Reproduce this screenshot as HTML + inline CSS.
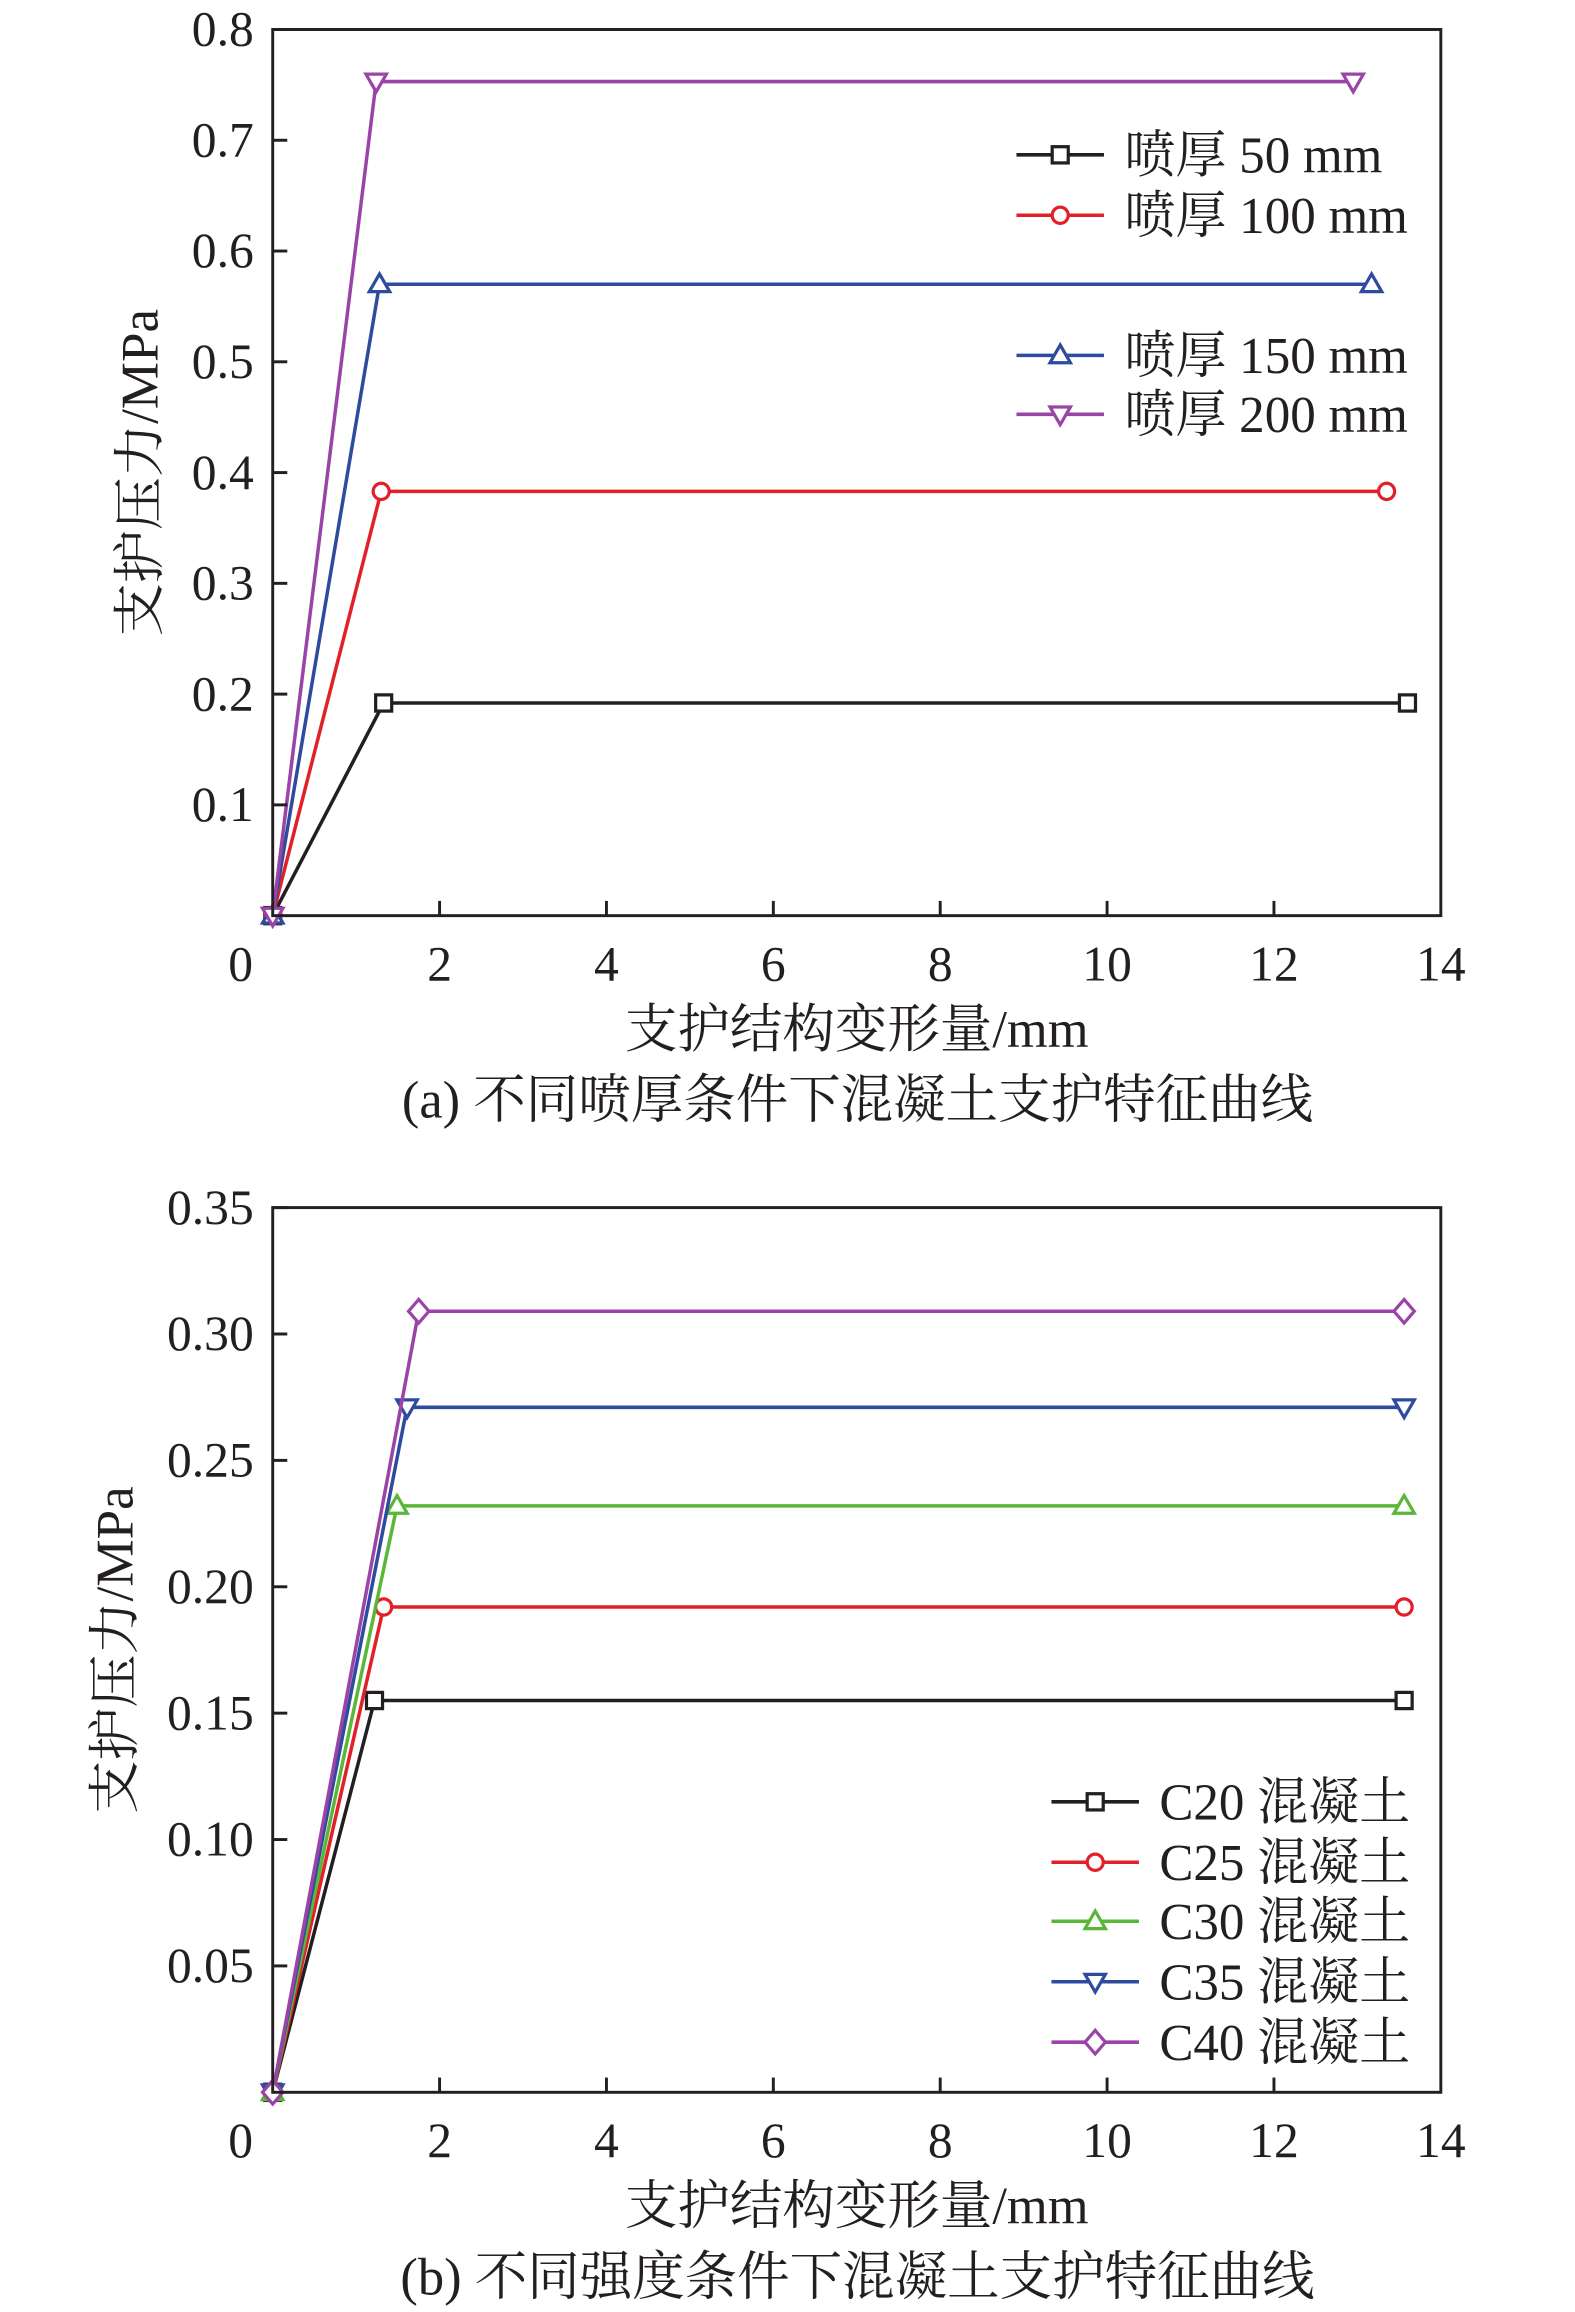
<!DOCTYPE html>
<html><head><meta charset="utf-8">
<style>
html,body{margin:0;padding:0;background:#fff;}
svg{display:block;}
text{font-family:"Liberation Serif","Noto Serif CJK SC",serif;fill:#231f20;}
</style></head>
<body>
<svg id="fig" width="1575" height="2312" viewBox="0 0 1080 1568" preserveAspectRatio="none" xmlns="http://www.w3.org/2000/svg"></svg>
<script>
// ---- Chart (a) data ----
const aNames = ["喷厚 50 mm","喷厚 100 mm","喷厚 150 mm","喷厚 200 mm"];
const aColors = ["#231f20","#e2202a","#2e4b9e","#9b44a8"];
const aMarkers = ["square","circle","up","down"];
const aX = [[0,1.33,13.6],[0,1.30,13.35],[0,1.28,13.17],[0,1.24,12.95]];
const aY = [[0,0.192,0.192],[0,0.383,0.383],[0,0.570,0.570],[0,0.753,0.753]];
const aYTicks = [0.1,0.2,0.3,0.4,0.5,0.6,0.7,0.8];
const aYLabels = ["0.1","0.2","0.3","0.4","0.5","0.6","0.7","0.8"];
// ---- Chart (b) data ----
const bNames = ["C20 混凝土","C25 混凝土","C30 混凝土","C35 混凝土","C40 混凝土"];
const bColors = ["#231f20","#e2202a","#5ab738","#2e4b9e","#9b44a8"];
const bMarkers = ["square","circle","up","down","diamond"];
const bX = [[0,1.22,13.56],[0,1.33,13.56],[0,1.49,13.56],[0,1.61,13.56],[0,1.75,13.56]];
const bY = [[0,0.155,0.155],[0,0.192,0.192],[0,0.232,0.232],[0,0.271,0.271],[0,0.309,0.309]];
const bYTicks = [0.05,0.10,0.15,0.20,0.25,0.30,0.35];
const bYLabels = ["0.05","0.10","0.15","0.20","0.25","0.30","0.35"];
const xTicks = [0,2,4,6,8,10,12,14];
const xLabels = ["0","2","4","6","8","10","12","14"];

const NS="http://www.w3.org/2000/svg";
const svg=document.getElementById('fig');
function mk(tag,attrs,parent){const e=document.createElementNS(NS,tag);for(const k in attrs)e.setAttribute(k,attrs[k]);(parent||svg).appendChild(e);return e;}
function marker(g,type,cx,cy,color){
  const s=5.5;let e;
  if(type==="square") e=mk('rect',{x:cx-s,y:cy-s,width:2*s,height:2*s},g);
  else if(type==="circle") e=mk('circle',{cx:cx,cy:cy,r:s},g);
  else if(type==="up") e=mk('polygon',{points:`${cx},${cy-7} ${cx-7},${cy+5} ${cx+7},${cy+5}`},g);
  else if(type==="down") e=mk('polygon',{points:`${cx},${cy+7} ${cx-7},${cy-5} ${cx+7},${cy-5}`},g);
  else e=mk('polygon',{points:`${cx},${cy-8} ${cx+7},${cy} ${cx},${cy+8} ${cx-7},${cy}`},g);
  e.setAttribute('fill','#fff');e.setAttribute('stroke',color);e.setAttribute('stroke-width','2.2');
  
  
  return e;
}
function chart(o){
  const {L,R,T,B,ymax,yTicks,yLabels,names,colors,markers,xs,ys,legX,legY,pre,caption,yTitleX}=o;
  const sx=v=>L+(v/14)*(R-L), sy=v=>B-(v/ymax)*(B-T);
  const g=mk('g',{});
  
  
  for(let i=0;i<names.length;i++){
    const pts=xs[i].map((x,j)=>sx(x)+','+sy(ys[i][j])).join(' ');
    const pl=mk('polyline',{points:pts,fill:'none',stroke:colors[i],'stroke-width':2.4},g);
    
    
    xs[i].forEach((x,j)=>marker(g,markers[i],sx(x),sy(ys[i][j]),colors[i]));
  }
  const fr=mk('rect',{x:L,y:T,width:R-L,height:B-T,fill:'none',stroke:'#231f20','stroke-width':2},g);
  
  
  yTicks.forEach((v,i)=>{
    mk('line',{x1:L,x2:L+10,y1:sy(v),y2:sy(v),stroke:'#231f20','stroke-width':2},g);
    const t=mk('text',{x:L-13,y:sy(v)+11,'text-anchor':'end','font-size':34},g);
    t.textContent=yLabels[i];
    
    
  });
  xTicks.forEach((v,i)=>{
    if(v>0&&v<14) mk('line',{x1:sx(v),x2:sx(v),y1:B,y2:B-10,stroke:'#231f20','stroke-width':2},g);
    const t=mk('text',{x:v===0?L-22:sx(v),y:B+44,'text-anchor':'middle','font-size':34},g);
    t.textContent=xLabels[i];
    
    
  });
  const xt=mk('text',{x:(L+R)/2,y:B+89,'text-anchor':'middle','font-size':36},g);
  xt.textContent='支护结构变形量/mm';
  
  
  const yt=mk('text',{x:0,y:0,'text-anchor':'middle','font-size':36,transform:`translate(${yTitleX},${(T+B)/2}) rotate(-90)`},g);
  yt.textContent='支护压力/MPa';
  
  
  const cp=mk('text',{x:588,y:B+137,'text-anchor':'middle','font-size':36},g);
  cp.textContent=caption;
  
  
  for(let i=0;i<names.length;i++){
    const ly=legY[i];
    const lg=mk('g',{},g);
    
    
    mk('line',{x1:legX,x2:legX+60,y1:ly,y2:ly,stroke:colors[i],'stroke-width':2.4},lg);
    marker(lg,markers[i],legX+30,ly,colors[i]);
    const t=mk('text',{x:legX+74,y:ly+12,'font-size':35},lg);
    t.textContent=names[i];
  }
}
chart({L:187,R:988,T:20,B:621,ymax:0.8,yTicks:aYTicks,yLabels:aYLabels,names:aNames,colors:aColors,markers:aMarkers,xs:aX,ys:aY,legX:697,legY:[105,146,241,281],pre:'chart-a',caption:'(a) 不同喷厚条件下混凝土支护特征曲线',yTitleX:108});
chart({L:187,R:988,T:819,B:1419,ymax:0.35,yTicks:bYTicks,yLabels:bYLabels,names:bNames,colors:bColors,markers:bMarkers,xs:bX,ys:bY,legX:721,legY:[1222,1263,1303,1344,1385],pre:'chart-b',caption:'(b) 不同强度条件下混凝土支护特征曲线',yTitleX:91});
</script>
</body></html>
